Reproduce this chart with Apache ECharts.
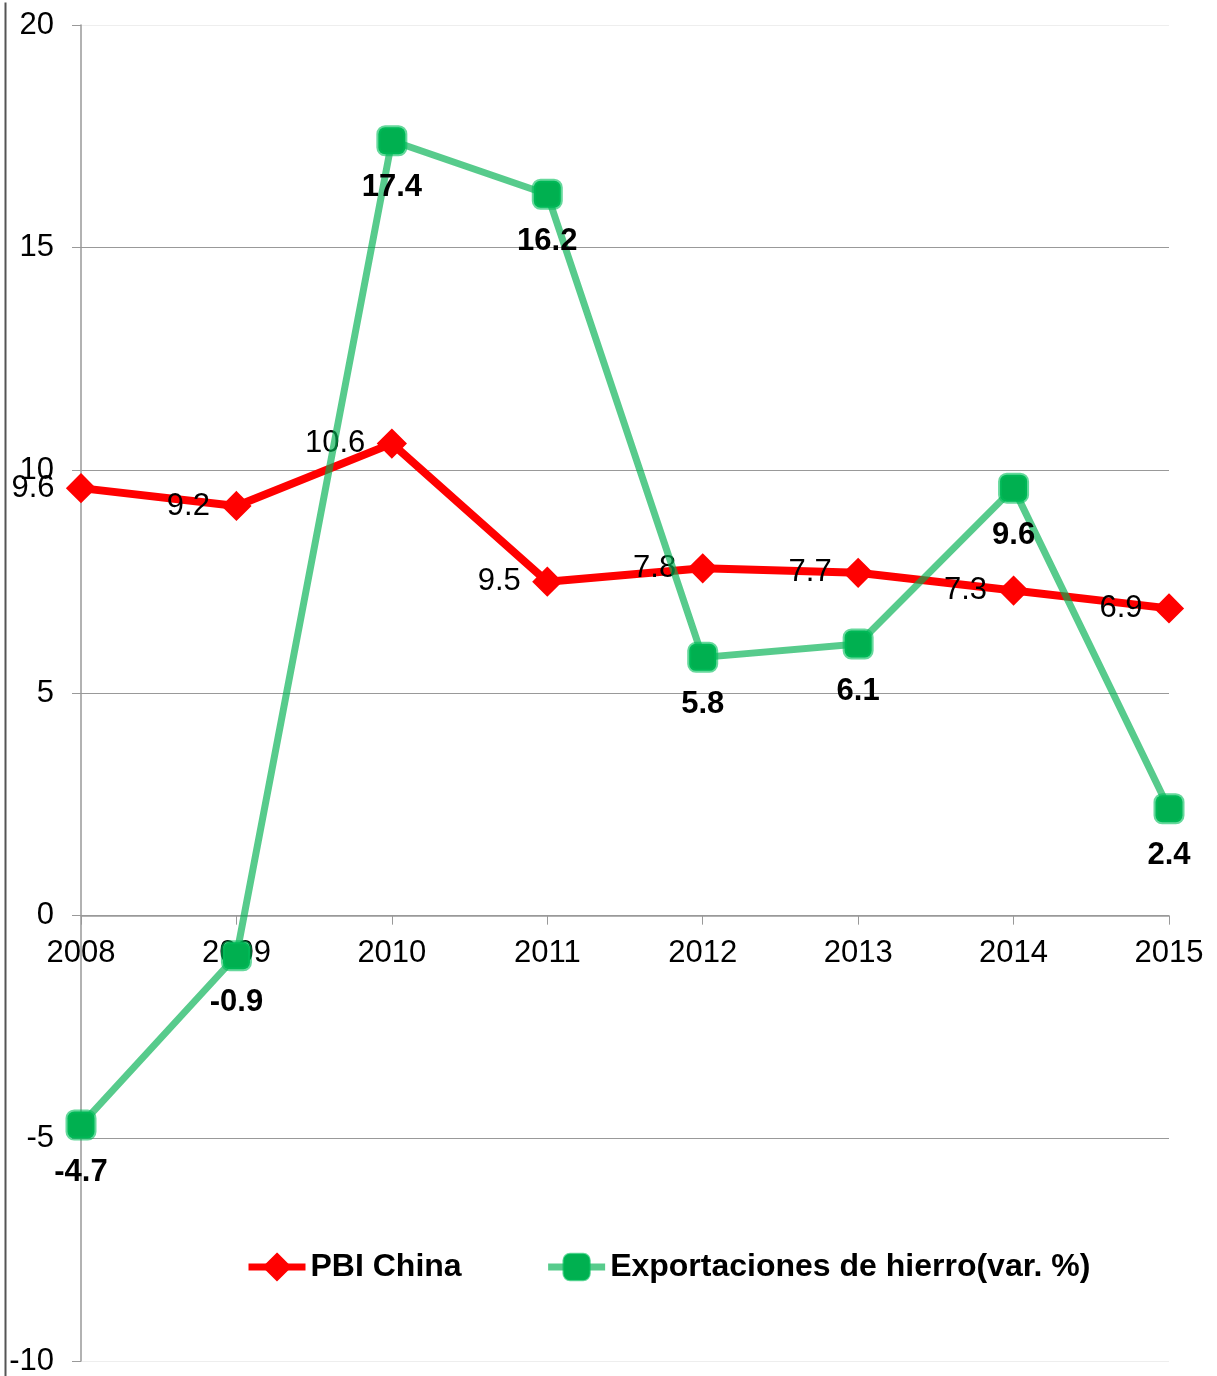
<!DOCTYPE html>
<html>
<head>
<meta charset="utf-8">
<script src="https://cdn.jsdelivr.net/npm/echarts@6/dist/echarts.min.js"></script>
<style>
html,body{margin:0;padding:0;background:#fff;}
#chart{width:1217px;height:1376px;}
</style>
</head>
<body>
<div id="chart"></div>
<script>
const categories = ['2008','2009','2010','2011','2012','2013','2014','2015'];
const pbiChina = [9.6, 9.2, 10.6, 7.5, 7.8, 7.7, 7.3, 6.9];
const pbiLabels = ['9.6','9.2','10.6','9.5','7.8','7.7','7.3','6.9'];
const exportHierro = [-4.7, -0.9, 17.4, 16.2, 5.8, 6.1, 9.6, 2.4];
const yMin = -10, yMax = 20, yStep = 5;

const FONT = 'Liberation Sans, Arial, sans-serif';
const GRID_TOP = 25, GRID_BOTTOM = 15, H = 1376;
const plotH = H - GRID_TOP - GRID_BOTTOM;
const zeroOffset = -plotH * (0 - yMin) / (yMax - yMin);

const chart = echarts.init(document.getElementById('chart'));
chart.setOption({
  animation: false,
  backgroundColor: '#fff',
  textStyle: { fontFamily: FONT },
  grid: { left: 81, right: 48, top: GRID_TOP, bottom: GRID_BOTTOM, containLabel: false, outerBoundsMode: 'none' },
  legend: {
    left: 245, top: 1251, padding: 0,
    itemWidth: 57, itemHeight: 33, itemGap: 83,
    lineStyle: { width: 7 },
    textStyle: { fontFamily: FONT, fontSize: 32, fontWeight: 'bold', color: '#000' },
    data: ['PBI China', 'Exportaciones de hierro(var. %)']
  },
  graphic: [{
    type: 'line', left: 3, top: 0,
    shape: { x1: 0, y1: 0, x2: 0, y2: 1376 },
    style: { stroke: '#555', lineWidth: 2 }
  }],
  xAxis: {
    type: 'category', data: categories, boundaryGap: false,
    position: 'bottom', offset: zeroOffset,
    axisLine: { onZero: false, lineStyle: { color: '#999', width: 1.5 } },
    axisTick: { show: true, length: 9, alignWithLabel: true, lineStyle: { color: '#999' } },
    axisLabel: { margin: 22, fontSize: 31, color: '#000', fontFamily: FONT },
    splitLine: { show: false }
  },
  yAxis: {
    type: 'value', min: yMin, max: yMax, interval: yStep,
    axisLine: { show: true, lineStyle: { color: '#999', width: 1.5 } },
    axisTick: { show: true, length: 9, lineStyle: { color: '#999' } },
    axisLabel: { margin: 27, fontSize: 31, color: '#000', fontFamily: FONT },
    splitLine: { show: true, lineStyle: { color: ['#eee', '#999', '#999', '#999', '#999', '#999', '#eee'], width: 1.2 } }
  },
  series: [
    {
      name: 'PBI China', type: 'line', data: pbiChina,
      z: 3,
      symbol: 'diamond', symbolSize: 26,
      lineStyle: { color: '#ff0000', width: 8 },
      itemStyle: { color: '#ff0000', borderColor: '#ff0000', borderWidth: 3 },
      label: {
        show: true, position: 'left', distance: 12,
        fontSize: 31, color: '#000', fontFamily: FONT,
        formatter: p => pbiLabels[p.dataIndex]
      }
    },
    {
      name: 'Exportaciones de hierro(var. %)', type: 'line', data: exportHierro,
      z: 4,
      symbol: 'roundRect', symbolSize: 27,
      lineStyle: { color: 'rgba(0,176,80,0.66)', width: 7 },
      itemStyle: { color: '#00b050', borderColor: 'rgba(0,190,90,0.6)', borderWidth: 4 },
      label: {
        show: true, position: 'bottom', distance: 16,
        fontSize: 31, fontWeight: 'bold', color: '#000', fontFamily: FONT
      }
    }
  ]
});
</script>
</body>
</html>
